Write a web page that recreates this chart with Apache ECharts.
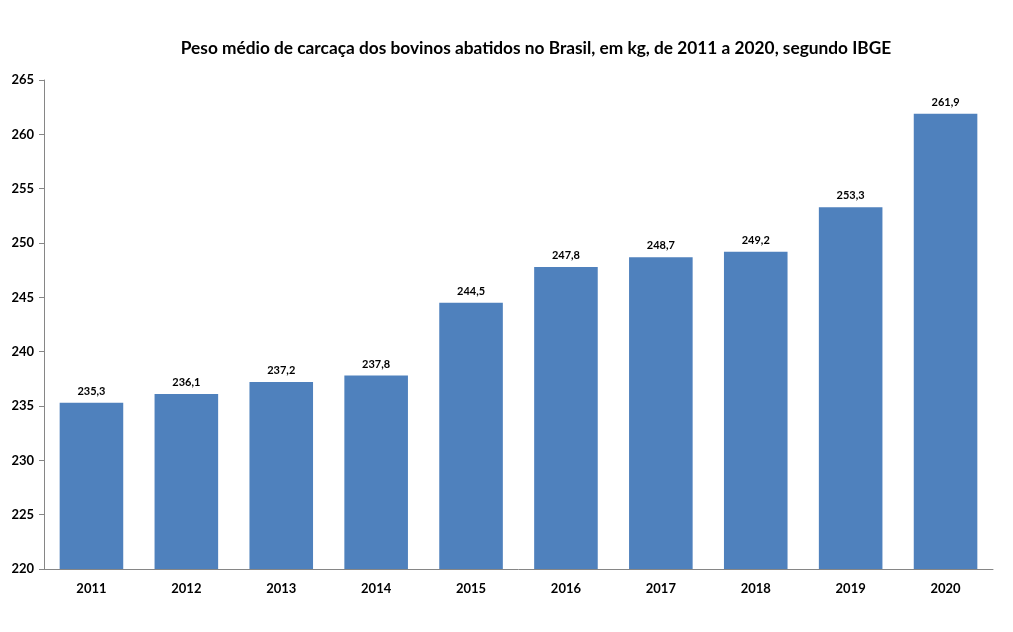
<!DOCTYPE html>
<html><head><meta charset="utf-8">
<script src="https://cdn.jsdelivr.net/npm/echarts@6/dist/echarts.min.js"></script>
<style>html,body{margin:0;padding:0;background:#fff}#c{width:1013px;height:632px}</style>
</head><body><div id="c"></div>
<script>
const titleText = 'Peso médio de carcaça dos bovinos abatidos no Brasil, em kg, de 2011 a 2020, segundo IBGE';
const years = ['2011','2012','2013','2014','2015','2016','2017','2018','2019','2020'];
const weights = [235.3, 236.1, 237.2, 237.8, 244.5, 247.8, 248.7, 249.2, 253.3, 261.9];
const font = 'Lato, "Open Sans", sans-serif';
const chart = echarts.init(document.getElementById('c'));
chart.setOption({
  animation: false,
  title: { text: titleText, left: 531, top: 35, textAlign: 'center',
    textStyle: { fontFamily: font, fontSize: 17.3, fontWeight: 'bold', color: '#000' } },
  grid: { left: 44, right: 20, top: 80, bottom: 63 },
  xAxis: { type: 'category', data: years,
    axisLine: { lineStyle: { color: '#868686' } },
    axisTick: { length: 5, lineStyle: { color: '#868686' } },
    axisLabel: { fontFamily: font, fontSize: 13, fontWeight: 'bold', color: '#000', margin: 13 } },
  yAxis: { type: 'value', min: 220, max: 265, interval: 5,
    axisLine: { show: true, lineStyle: { color: '#868686' } },
    axisTick: { show: true, length: 5, lineStyle: { color: '#868686' } },
    splitLine: { show: false },
    axisLabel: { fontFamily: font, fontSize: 13, fontWeight: 'bold', color: '#000', margin: 10 } },
  series: [{ type: 'bar', data: weights, barWidth: '67%',
    itemStyle: { color: '#4F81BD' },
    label: { show: true, position: 'top', distance: 6, fontFamily: font, fontSize: 11, fontWeight: 'bold', color: '#000',
      formatter: p => p.value.toFixed(1).replace('.', ',') } }]
});
</script></body></html>
